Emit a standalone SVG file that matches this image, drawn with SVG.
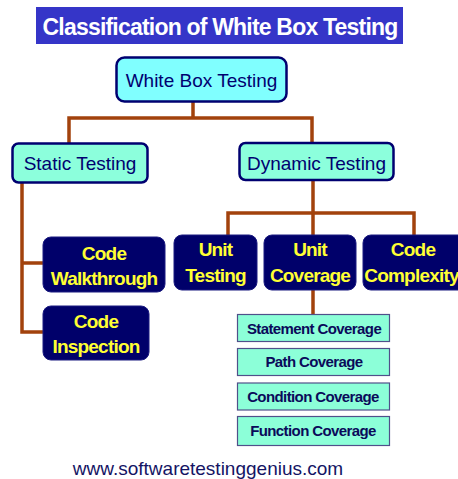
<svg xmlns="http://www.w3.org/2000/svg" width="458" height="479" viewBox="0 0 458 479">
  <style>
    .wire { fill: none; stroke: #a2420c; stroke-width: 3.5; stroke-linecap: square; }
    .root { fill: #80ffff; stroke: #000070; stroke-width: 2.5; }
    .mid { fill: #8cffdc; stroke: #000070; stroke-width: 2.5; }
    .dark { fill: #00006a; stroke: #1a1a80; stroke-width: 1; }
    .leaf { fill: #8cffd8; stroke: #50508a; stroke-width: 1.2; }
    .t-mid { font-family: "Liberation Sans", Arial, sans-serif; font-size: 19px; fill: #000070; text-anchor: middle; }
    .t-dark { font-family: "Liberation Sans", Arial, sans-serif; font-size: 19px; font-weight: bold; fill: #ffff33; text-anchor: middle; letter-spacing: -0.8px; }
    .t-leaf { font-family: "Liberation Sans", Arial, sans-serif; font-size: 15px; font-weight: bold; fill: #0a0a5a; text-anchor: middle; letter-spacing: -0.6px; }
  </style>

  <!-- heading banner -->
  <g id="title">
    <rect x="36" y="7" width="367" height="37" fill="#3535c8"/>
    <text x="220" y="35" font-family="Liberation Sans, Arial, sans-serif" font-size="23" font-weight="bold" fill="#ffffff" text-anchor="middle" letter-spacing="-0.8">Classification of White Box Testing</text>
  </g>

  <!-- tree connectors -->
  <g id="connectors">
    <path class="wire" d="M193 102 V118 M69 118 H312 M69 118 V143 M312 118 V143"/>
    <path class="wire" d="M22 183 V332 M22 263 H43 M22 332 H43"/>
    <path class="wire" d="M313 181 V235 M228 213 H414 M228 213 V235 M414 213 V235"/>
    <path class="wire" d="M313 290 V314"/>
  </g>

  <g id="white-box-testing">
    <rect class="root" x="116.5" y="57.5" width="170" height="44" rx="8"/>
    <text class="t-mid" x="201.5" y="87">White Box Testing</text>
  </g>

  <g id="static-testing">
    <rect class="mid" x="12.5" y="143.5" width="135" height="39" rx="6"/>
    <text class="t-mid" x="80" y="170">Static Testing</text>
  </g>

  <g id="dynamic-testing">
    <rect class="mid" x="239.5" y="143" width="154" height="37" rx="6"/>
    <text class="t-mid" x="316.5" y="170">Dynamic Testing</text>
  </g>

  <g id="code-walkthrough">
    <rect class="dark" x="43" y="237" width="122" height="55" rx="8"/>
    <text class="t-dark" x="104" y="260">Code</text>
    <text class="t-dark" x="104" y="285">Walkthrough</text>
  </g>

  <g id="code-inspection">
    <rect class="dark" x="43" y="306" width="106" height="54" rx="8"/>
    <text class="t-dark" x="96" y="328">Code</text>
    <text class="t-dark" x="96" y="353">Inspection</text>
  </g>

  <g id="unit-testing">
    <rect class="dark" x="174" y="235" width="83" height="55" rx="8"/>
    <text class="t-dark" x="215.5" y="256">Unit</text>
    <text class="t-dark" x="215.5" y="282">Testing</text>
  </g>

  <g id="unit-coverage">
    <rect class="dark" x="264" y="235" width="92" height="55" rx="8"/>
    <text class="t-dark" x="310" y="256">Unit</text>
    <text class="t-dark" x="310" y="282">Coverage</text>
  </g>

  <g id="code-complexity">
    <rect class="dark" x="363" y="235" width="104" height="55" rx="8"/>
    <text class="t-dark" x="413" y="256">Code</text>
    <text class="t-dark" x="411.5" y="282" letter-spacing="-1.3">Complexity</text>
  </g>

  <g id="statement-coverage">
    <rect class="leaf" x="237.5" y="314.5" width="152" height="27"/>
    <text class="t-leaf" x="314" y="333.5">Statement Coverage</text>
  </g>

  <g id="path-coverage">
    <rect class="leaf" x="237.5" y="348.5" width="152" height="27"/>
    <text class="t-leaf" x="314" y="367">Path Coverage</text>
  </g>

  <g id="condition-coverage">
    <rect class="leaf" x="237.5" y="383" width="152" height="27"/>
    <text class="t-leaf" x="313" y="401.5">Condition Coverage</text>
  </g>

  <g id="function-coverage">
    <rect class="leaf" x="237.5" y="416.5" width="152" height="29"/>
    <text class="t-leaf" x="313" y="435.5">Function Coverage</text>
  </g>

  <!-- site address -->
  <text x="208" y="475" font-family="Liberation Sans, Arial, sans-serif" font-size="19" fill="#141464" text-anchor="middle">www.softwaretestinggenius.com</text>
</svg>
